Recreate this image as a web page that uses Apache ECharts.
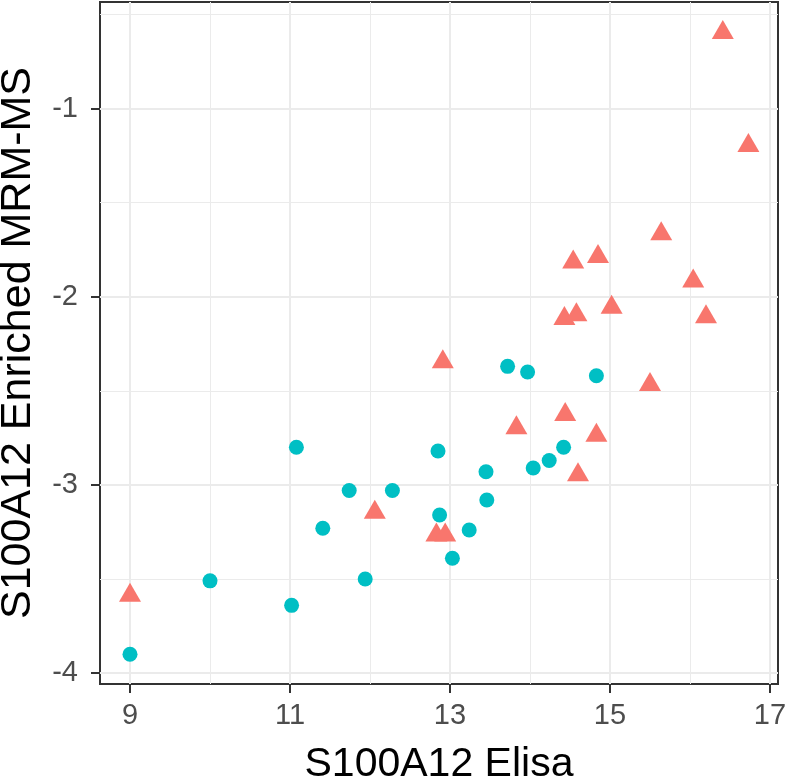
<!DOCTYPE html>
<html>
<head>
<meta charset="utf-8">
<script src="https://cdn.jsdelivr.net/npm/echarts@6/dist/echarts.min.js"></script>
<style>
  html, body { margin: 0; padding: 0; background: #ffffff; }
  #chart { width: 788px; height: 782px; }
</style>
</head>
<body>
<div id="chart"></div>
<script>
// ---- data ----
var circlePoints = [
  [9.00, -3.90], [10.00, -3.51], [11.02, -3.64], [11.08, -2.80], [11.41, -3.23],
  [11.74, -3.03], [11.94, -3.50], [12.28, -3.03], [12.85, -2.82], [12.87, -3.16],
  [13.03, -3.39], [13.24, -3.24], [13.45, -2.93], [13.46, -3.08], [13.72, -2.37],
  [13.97, -2.40], [14.04, -2.91], [14.24, -2.87], [14.42, -2.80], [14.83, -2.42]
];
var trianglePoints = [
  [9.00, -3.57], [12.06, -3.13], [12.83, -3.25], [12.94, -3.25], [12.91, -2.33],
  [13.83, -2.68], [14.44, -2.61], [14.60, -2.93], [14.83, -2.72], [14.43, -2.10],
  [14.58, -2.08], [15.02, -2.04], [14.54, -1.80], [14.85, -1.77], [15.50, -2.45],
  [15.64, -1.65], [16.04, -1.90], [16.20, -2.09], [16.41, -0.58], [16.73, -1.18]
];
var xTicks = [9, 11, 13, 15, 17];
var xMinor = [10, 12, 14, 16];
var yTicks = [-4, -3, -2, -1];
var yMinor = [-3.5, -2.5, -1.5, -0.5];
var xRange = [8.625, 17.10];
var yRange = [-4.058, -0.434];
var xTitle = 'S100A12 Elisa';
var yTitle = 'S100A12 Enriched MRM-MS';

// ---- styling ----
var FONT = "'Liberation Sans', Arial, sans-serif";
var gridColor = '#EBEBEB';
var lines = [];
xTicks.forEach(function (v) { lines.push({ xAxis: v, lineStyle: { color: gridColor, width: 2, type: 'solid' } }); });
xMinor.forEach(function (v) { lines.push({ xAxis: v, lineStyle: { color: gridColor, width: 1, type: 'solid' } }); });
yTicks.forEach(function (v) { lines.push({ yAxis: v, lineStyle: { color: gridColor, width: 2, type: 'solid' } }); });
yMinor.forEach(function (v) { lines.push({ yAxis: v, lineStyle: { color: gridColor, width: 1, type: 'solid' } }); });

var chart = echarts.init(document.getElementById('chart'), null, { renderer: 'canvas' });
chart.setOption({
  animation: false,
  backgroundColor: '#ffffff',
  grid: {
    left: 100, right: 10, top: 2, bottom: 98,
    containLabel: false, outerBoundsMode: 'none',
    show: true, borderColor: '#333333', borderWidth: 2, backgroundColor: '#ffffff'
  },
  xAxis: {
    type: 'value', min: xRange[0], max: xRange[1],
    name: xTitle, nameLocation: 'middle', nameGap: 60,
    nameTextStyle: { fontFamily: FONT, fontSize: 41, color: '#000000' },
    axisLine: { show: true, onZero: false, lineStyle: { color: '#333333', width: 2 } },
    axisTick: { show: true, customValues: xTicks, length: 9, lineStyle: { color: '#333333', width: 2 } },
    axisLabel: { show: true, customValues: xTicks, margin: 17, fontFamily: FONT, fontSize: 29, color: '#4D4D4D' },
    splitLine: { show: false }
  },
  yAxis: {
    type: 'value', min: yRange[0], max: yRange[1],
    name: yTitle, nameLocation: 'middle', nameGap: 60, nameRotate: 90,
    nameTextStyle: { fontFamily: FONT, fontSize: 43, color: '#000000' },
    axisLine: { show: true, onZero: false, lineStyle: { color: '#333333', width: 2 } },
    axisTick: { show: true, customValues: yTicks, length: 9, lineStyle: { color: '#333333', width: 2 } },
    axisLabel: { show: true, customValues: yTicks, margin: 22, fontFamily: FONT, fontSize: 29, color: '#4D4D4D' },
    splitLine: { show: false }
  },
  series: [
    {
      name: 'grid', type: 'scatter', data: [], z: 1, silent: true,
      markLine: { z: 1, silent: true, symbol: 'none', label: { show: false }, animation: false, data: lines }
    },
    {
      name: 'circle', type: 'scatter', z: 3, data: circlePoints,
      symbol: 'circle', symbolSize: 15,
      itemStyle: { color: '#00BFC4', opacity: 1 }
    },
    {
      name: 'triangle', type: 'scatter', z: 3, data: trianglePoints,
      symbol: 'triangle', symbolSize: [22, 19],
      itemStyle: { color: '#F8766D', opacity: 1 }
    }
  ]
});
</script>
</body>
</html>
